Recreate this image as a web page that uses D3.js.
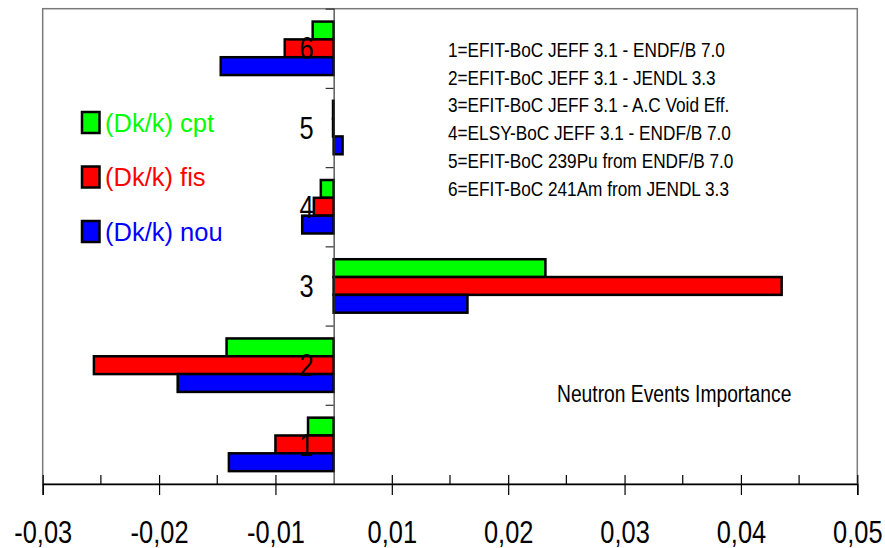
<!DOCTYPE html>
<html>
<head>
<meta charset="utf-8">
<script src="https://cdn.jsdelivr.net/npm/d3@7"></script>
<style>
  body { margin: 0; background: #fff; }
  svg { display: block; }
</style>
</head>
<body>
<div id="chart"></div>
<script>
// neutron events importance, 3 bars per case

var categories = ["1", "2", "3", "4", "5", "6"];
var seriesKeys = ["cpt", "fis", "nou"];
var seriesLabels = ["(Dk/k) cpt", "(Dk/k) fis", "(Dk/k) nou"];
var seriesColors = ["#00ff00", "#ff0000", "#0000ff"];

var cpt = [-0.0022, -0.0092, 0.0182, -0.0011, -0.00005, -0.0018];
var fis = [-0.0050, -0.0206, 0.0385, -0.0017, -0.00005, -0.0042];
var nou = [-0.0090, -0.0134, 0.0115, -0.0027, 0.00077, -0.0097];

// tick marks as printed on the original (labels sit half a step off zero)
var majorTicks = [-0.025, -0.015, -0.005, 0.005, 0.015, 0.025, 0.035, 0.045];
var tickLabels = ["-0,03", "-0,02", "-0,01", "0,01", "0,02", "0,03", "0,04", "0,05"];
var minorTicks = [-0.02, -0.01, 0.01, 0.02, 0.03, 0.04];

var notes = [
	"1=EFIT-BoC JEFF 3.1 - ENDF/B 7.0",
	"2=EFIT-BoC JEFF 3.1 - JENDL 3.3",
	"3=EFIT-BoC JEFF 3.1 - A.C Void Eff.",
	"4=ELSY-BoC JEFF 3.1 - ENDF/B 7.0",
	"5=EFIT-BoC 239Pu from ENDF/B 7.0",
	"6=EFIT-BoC 241Am from JENDL 3.3"
];
var title = "Neutron Events Importance";

function main(){

	var width = 885, height = 548;
	var plotLeft = 42.7, plotRight = 857.3, plotTop = 8.7, plotBottom = 484;
	var font = "'Liberation Sans', Arial, sans-serif";
	var squeeze = "scale(0.82,1)";	// no Arial Narrow here, so squash Liberation Sans

	var svg = d3.select("#chart").append("svg")
		.attr("width", width)
		.attr("height", height);

	var x = d3.scaleLinear().domain([-0.025, 0.045]).range([plotLeft, plotRight]);

	var y = d3.scaleBand().domain(categories).range([plotBottom, plotTop])
		.paddingInner(0.325).paddingOuter(0.1625);

	var ySub = d3.scaleBand().domain(seriesKeys).range([0, y.bandwidth()]);

	var yEdge = d3.scaleLinear().domain([0, categories.length]).range([plotBottom, plotTop]);

	// frame
	svg.append("rect")
		.attr("x", plotLeft).attr("y", plotTop)
		.attr("width", plotRight - plotLeft).attr("height", plotBottom - plotTop)
		.attr("fill", "none")
		.attr("stroke", "#7a7a7a")
		.attr("stroke-width", 1.5);

	// bars
	var values = { cpt: cpt, fis: fis, nou: nou };
	var rows = [];
	categories.forEach(function(c, i) {
		seriesKeys.forEach(function(k, j) {
			rows.push({ cat: c, key: k, value: values[k][i], color: seriesColors[j] });
		});
	});

	svg.selectAll(".bar")
		.data(rows).enter()
		.append("rect")
		.attr("class", "bar")
		.attr("x", d => Math.min(x(0), x(d.value)))
		.attr("y", d => y(d.cat) + ySub(d.key))
		.attr("width", d => Math.abs(x(d.value) - x(0)))
		.attr("height", ySub.bandwidth())
		.attr("fill", d => d.color)
		.attr("stroke", "#000")
		.attr("stroke-width", 2.5);

	// vertical axis at zero
	var yAxis = svg.append("g")
		.attr("transform", "translate(" + x(0) + ",0)")
		.call(d3.axisLeft(yEdge).tickValues(d3.range(1, categories.length)).tickSize(8).tickFormat(""));
	yAxis.select(".domain").attr("stroke", "#333").attr("stroke-width", 1.2);
	yAxis.selectAll(".tick line").attr("stroke", "#333").attr("stroke-width", 1.2);

	// category labels
	svg.selectAll(".cat")
		.data(categories).enter()
		.append("g")
		.attr("class", "cat")
		.attr("transform", d => "translate(" + (x(0) - 20) + "," + (y(d) + y.bandwidth() / 2) + ") " + squeeze)
		.append("text")
		.attr("dy", "0.36em")
		.attr("text-anchor", "end")
		.attr("font-family", font)
		.attr("font-size", 31)
		.attr("fill", "#000")
		.text(d => d);

	// bottom axis
	var xAxis = svg.append("g")
		.attr("transform", "translate(0," + plotBottom + ")")
		.call(d3.axisBottom(x).tickValues(majorTicks).tickFormat((d, i) => tickLabels[i]).tickSize(11).tickPadding(26));
	xAxis.select(".domain").attr("stroke", "#000").attr("stroke-width", 1.5);
	xAxis.selectAll(".tick line").attr("y1", -9).attr("stroke", "#000").attr("stroke-width", 1.2);
	xAxis.selectAll(".tick text")
		.attr("font-family", font)
		.attr("font-size", 31)
		.attr("fill", "#000")
		.attr("transform", squeeze);

	svg.append("g")
		.attr("transform", "translate(0," + plotBottom + ")")
		.selectAll("line")
		.data(minorTicks).enter()
		.append("line")
		.attr("x1", d => x(d)).attr("x2", d => x(d))
		.attr("y1", -9).attr("y2", 0)
		.attr("stroke", "#000")
		.attr("stroke-width", 1.2);

	// legend
	var legend = svg.selectAll(".legend")
		.data(seriesLabels).enter()
		.append("g")
		.attr("class", "legend")
		.attr("transform", (d, i) => "translate(82," + (112 + i * 54.5) + ")");

	legend.append("rect")
		.attr("width", 17.5).attr("height", 21)
		.attr("fill", (d, i) => seriesColors[i])
		.attr("stroke", "#000")
		.attr("stroke-width", 2.5);

	legend.append("text")
		.attr("x", 23)
		.attr("y", 19.5)
		.attr("font-family", font)
		.attr("font-size", 25.5)
		.attr("fill", (d, i) => seriesColors[i])
		.text(d => d);

	// case notes
	svg.append("g").selectAll("g")
		.data(notes).enter()
		.append("g")
		.attr("transform", (d, i) => "translate(448," + (56.7 + i * 27.8) + ") " + squeeze)
		.append("text")
		.attr("font-family", font)
		.attr("font-size", 21)
		.attr("fill", "#000")
		.text(d => d);

	svg.append("g")
		.attr("transform", "translate(557,401.7) " + squeeze)
		.append("text")
		.attr("font-family", font)
		.attr("font-size", 23.5)
		.attr("fill", "#000")
		.text(title);
}

main();
</script>
</body>
</html>
